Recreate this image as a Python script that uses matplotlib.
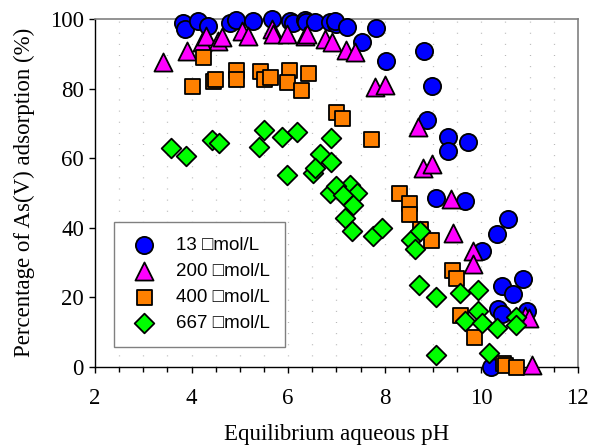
import numpy as np
import matplotlib
matplotlib.use("Agg")
import matplotlib.pyplot as plt

# pH / adsorption (%), one pair of lists per initial As(V) level
ph_13 = [3.83, 3.86, 4.14, 4.35, 4.80, 4.93, 5.28, 5.66, 6.04, 6.11, 6.35, 6.38, 6.55, 6.87,
         7.00, 6.97, 7.21, 7.83, 7.53, 8.02, 8.81, 8.99, 8.87, 9.31, 9.73, 9.31,
         9.07, 9.66, 10.56, 10.32, 10.01, 10.87, 10.44, 10.65, 10.34, 10.42, 10.94, 10.20]
ads_13 = [98.9, 97.1, 99.5, 98.1, 98.8, 99.8, 99.5, 100.0, 99.5, 98.8, 99.8, 99.0, 99.2, 99.0,
          98.6, 99.5, 97.6, 97.3, 93.3, 87.8, 90.7, 80.6, 71.0, 66.2, 64.6, 62.0,
          48.6, 47.6, 42.5, 38.3, 33.2, 25.2, 23.3, 21.0, 16.6, 15.2, 15.9, 0.0]

ph_200 = [3.41, 3.91, 4.21, 4.30, 4.55, 4.64, 5.04, 5.17, 5.66, 5.68, 5.97, 6.35, 6.40, 6.76,
          6.90, 7.20, 7.38, 7.80, 8.00, 8.69, 8.80, 8.99, 9.38, 9.42, 9.83, 9.83,
          10.90, 10.99, 11.06]
ads_200 = [87.5, 90.9, 93.3, 95.0, 93.7, 94.7, 96.6, 95.0, 97.1, 95.7, 95.7, 95.2, 95.8, 94.2,
           93.3, 91.1, 90.4, 80.3, 81.0, 68.8, 57.2, 58.2, 48.1, 38.5, 33.2, 29.6,
           14.5, 14.0, 0.5]

ph_400 = [4.24, 4.01, 4.45, 4.48, 4.91, 4.93, 5.42, 5.49, 5.62, 6.02, 5.97, 6.26, 6.42,
          7.00, 7.12, 7.71, 8.30, 8.50, 8.50, 8.74, 8.96, 9.40, 9.47, 9.57, 9.84,
          10.45, 10.50, 10.73]
ads_400 = [89.0, 80.8, 82.2, 82.7, 85.4, 82.7, 85.1, 82.7, 83.2, 85.4, 81.9, 79.6, 84.4,
           73.3, 71.6, 65.6, 50.0, 47.1, 43.8, 39.6, 36.5, 27.7, 25.5, 14.9, 8.5,
           1.2, 0.5, 0.0]

ph_667 = [3.57, 3.88, 4.42, 4.57, 5.49, 5.40, 5.88, 6.19, 5.98, 6.88, 6.66, 6.88, 6.51, 6.55,
          6.86, 7.28, 7.42, 7.00, 7.14, 7.35, 7.18, 7.33, 7.75, 7.94, 8.54, 8.73, 8.63,
          8.71, 9.07, 9.56, 9.94, 9.66, 9.94, 10.01, 10.32, 10.73, 10.73, 10.16, 9.06]
ads_667 = [62.8, 60.6, 65.2, 64.2, 68.1, 63.3, 66.1, 67.5, 55.1, 65.9, 61.3, 59.0, 55.8, 57.2,
           50.0, 52.4, 50.0, 51.9, 49.5, 46.6, 42.8, 38.9, 37.5, 39.9, 36.5, 38.9, 33.9,
           23.6, 20.0, 21.3, 22.1, 13.0, 15.9, 12.5, 11.1, 14.4, 12.0, 3.9, 3.4]

labels = ["13 \u25a1mol/L", "200 \u25a1mol/L", "400 \u25a1mol/L", "667 \u25a1mol/L"]

fig = plt.figure(figsize=(5.92, 4.46), dpi=100)
ax = fig.add_axes([0.1605, 0.1778, 0.8155, 0.7796])

# dotted vertical guides every 0.5 pH
for gx in np.arange(2.5, 12.0, 0.5):
    ax.axvline(gx, color="#b8b8b8", lw=0.9, dashes=(0.8, 8.1), zorder=0)

kw = dict(edgecolors="black", linewidths=1.3, clip_on=False)
ax.scatter(ph_13, ads_13, s=12.4**2, marker="o", color="#0000ff", label=labels[0], zorder=3, **kw)
ax.scatter(ph_200, ads_200, s=13.0**2, marker="^", color="#ff00ff", label=labels[1], zorder=4, **kw)
ax.scatter(ph_400, ads_400, s=10.8**2, marker="s", color="#ff8000", label=labels[2], zorder=5, **kw)
ax.scatter(ph_667, ads_667, s=10.0**2, marker="D", color="#00ff00", label=labels[3], zorder=6, **kw)

ax.set_xlim(2, 12)
ax.set_ylim(0, 100)
ax.set_xticks(np.arange(2, 13, 2))
ax.set_xticks(np.arange(2, 12.01, 0.5), minor=True)
ax.set_yticks(np.arange(0, 101, 20))

serif = ["Liberation Serif", "DejaVu Serif"]
for t in ax.get_xticklabels() + ax.get_yticklabels():
    t.set_fontfamily(serif)
    t.set_fontsize(16.5)
ax.tick_params(which="major", direction="out", length=4, width=1)
ax.tick_params(which="minor", direction="out", length=3.5, width=1)
ax.tick_params(axis="x", pad=11.5)
ax.tick_params(axis="y", pad=4)

for side in ["top", "right"]:
    ax.spines[side].set_color("#808080")
    ax.spines[side].set_linewidth(1.2)
for side in ["left", "bottom"]:
    ax.spines[side].set_color("black")
    ax.spines[side].set_linewidth(1.0)

ax.set_xlabel("Equilibrium aqueous pH", fontfamily=serif, fontsize=16.5, labelpad=10.5)
ax.set_ylabel("Percentage of As(V) adsorption (%)", fontfamily=serif, fontsize=16.5, labelpad=11)

leg = ax.legend(loc="lower left", bbox_to_anchor=(0.039, 0.058), borderaxespad=0,
                prop={"family": ["Liberation Sans", "DejaVu Sans"], "size": 13.5},
                fancybox=False, framealpha=1, edgecolor="#808080",
                labelspacing=0.46, borderpad=0.8, handletextpad=0.9, handlelength=1.6,
                scatterpoints=1)
leg.get_frame().set_linewidth(1.0)

fig.savefig("out.png", dpi=100)
